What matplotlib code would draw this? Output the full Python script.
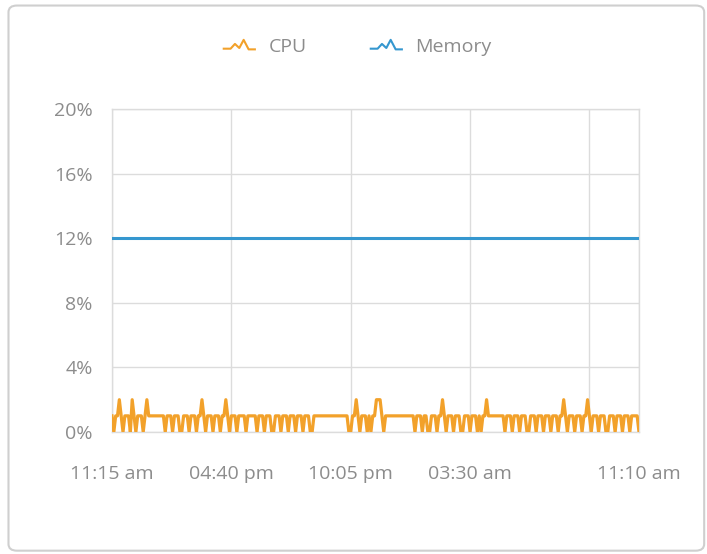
#!/usr/bin/env python3
"""
CPU / Memory usage over one day
"""
import matplotlib
matplotlib.use("Agg")
import matplotlib.pyplot as plt
from matplotlib.lines import Line2D
from matplotlib.legend_handler import HandlerBase
from matplotlib.patches import FancyBboxPatch

# minutes since 11:15 am, one CPU sample every 5 minutes
cpu_step = 5
cpu_values = [
    1, 0, 1, 1, 2, 1, 0, 1, 1, 1, 0, 2, 1, 0, 1, 1, 1, 0, 1, 2,
    1, 1, 1, 1, 1, 1, 1, 1, 1, 0, 1, 1, 1, 0, 1, 1, 1, 0, 0, 1,
    1, 1, 0, 1, 1, 1, 0, 1, 1, 2, 1, 0, 1, 1, 1, 0, 1, 1, 1, 0,
    1, 1, 2, 1, 0, 1, 1, 1, 0, 1, 1, 1, 1, 0, 1, 1, 1, 1, 1, 0,
    1, 1, 1, 0, 1, 1, 1, 0, 0, 1, 1, 1, 0, 1, 1, 1, 0, 1, 1, 1,
    0, 1, 1, 1, 0, 1, 1, 1, 0, 0, 1, 1, 1, 1, 1, 1, 1, 1, 1, 1,
    1, 1, 1, 1, 1, 1, 1, 1, 1, 0, 0, 1, 1, 2, 1, 0, 1, 1, 1, 0,
    1, 0, 1, 1, 2, 2, 2, 1, 0, 1, 1, 1, 1, 1, 1, 1, 1, 1, 1, 1,
    1, 1, 1, 1, 1, 0, 1, 1, 1, 0, 1, 1, 0, 0, 1, 1, 1, 0, 1, 1,
    2, 1, 0, 1, 1, 1, 0, 1, 1, 1, 0, 0, 1, 1, 1, 0, 1, 1, 1, 0,
    1, 0, 1, 1, 2, 1, 1, 1, 1, 1, 1, 1, 1, 1, 0, 1, 1, 1, 0, 1,
    1, 1, 0, 1, 1, 1, 0, 0, 1, 1, 1, 0, 1, 1, 1, 0, 1, 1, 1, 0,
    1, 1, 1, 0, 1, 1, 2, 1, 0, 1, 1, 1, 0, 1, 1, 1, 0, 1, 1, 2,
    1, 0, 1, 1, 1, 0, 1, 1, 1, 0, 0, 1, 1, 1, 0, 1, 1, 1, 0, 1,
    1, 1, 0, 1, 1, 1, 1, 0,
]
cpu_minutes = [i * cpu_step for i in range(len(cpu_values))]

memory_minutes = [0, 1435]
memory_values = [12.0, 12.0]

x_ticks = [0, 325, 650, 975, 1300, 1435]
x_labels = ["11:15 am", "04:40 pm", "10:05 pm", "03:30 am", "", "11:10 am"]
y_ticks = [0, 4, 8, 12, 16, 20]
y_labels = ["0%", "4%", "8%", "12%", "16%", "20%"]

CPU_COLOR = "#f2a12a"
MEM_COLOR = "#3597cf"
TEXT_COLOR = "#8c8c8c"
GRID_COLOR = "#dcdcdc"

plt.rcParams["font.family"] = ["Open Sans", "DejaVu Sans"]


class ZigzagHandler(HandlerBase):
    """Small heartbeat-like zigzag used as legend icon"""
    def create_artists(self, legend, orig_handle, xdescent, ydescent,
                       width, height, fontsize, trans):
        fx = [0.0, 0.22, 0.36, 0.5, 0.64, 0.8, 1.0]
        fy = [0.25, 0.25, 0.6, 0.3, 0.9, 0.2, 0.2]
        xs = [-xdescent + f * width for f in fx]
        ys = [-ydescent + f * height for f in fy]
        line = Line2D(xs, ys, color=orig_handle.get_color(),
                      linewidth=1.5, transform=trans)
        return [line]


fig = plt.figure(figsize=(7.07, 5.54), dpi=100)
ax = fig.add_axes([0.1584, 0.2202, 0.7454, 0.583])

cpu_line, = ax.plot(cpu_minutes, cpu_values, color=CPU_COLOR, linewidth=2.3,
                    label="CPU", zorder=3)
mem_line, = ax.plot(memory_minutes, memory_values, color=MEM_COLOR,
                    linewidth=2.2, label="Memory", zorder=3)

ax.set_xlim(0, 1435)
ax.set_ylim(0, 20)
ax.set_xticks(x_ticks)
ax.set_xticklabels(x_labels)
ax.set_yticks(y_ticks)
ax.set_yticklabels(y_labels)
ax.tick_params(axis="both", length=0, colors=TEXT_COLOR, labelsize=14)
ax.tick_params(axis="x", pad=24)
ax.tick_params(axis="y", pad=14)
ax.grid(True, color=GRID_COLOR, linewidth=1.0)
ax.set_axisbelow(True)
for spine in ax.spines.values():
    spine.set_color(GRID_COLOR)
    spine.set_linewidth(1.0)

leg = fig.legend(handles=[cpu_line, mem_line], labels=["CPU", "Memory"],
                 handler_map={Line2D: ZigzagHandler()},
                 loc="center", bbox_to_anchor=(0.506, 0.915), ncol=2,
                 frameon=False, fontsize=14, handlelength=1.6,
                 handletextpad=0.7, columnspacing=3.3)
for txt in leg.get_texts():
    txt.set_color(TEXT_COLOR)

# outer rounded card border
card = FancyBboxPatch((0.012, 0.006), 0.984, 0.984,
                      boxstyle="round,pad=0,rounding_size=0.012",
                      transform=fig.transFigure, facecolor="none",
                      edgecolor="#cfcfcf", linewidth=1.5)
fig.patches.append(card)

fig.savefig("out.png", dpi=100)
plt.close(fig)
print("Plot saved: out.png")
